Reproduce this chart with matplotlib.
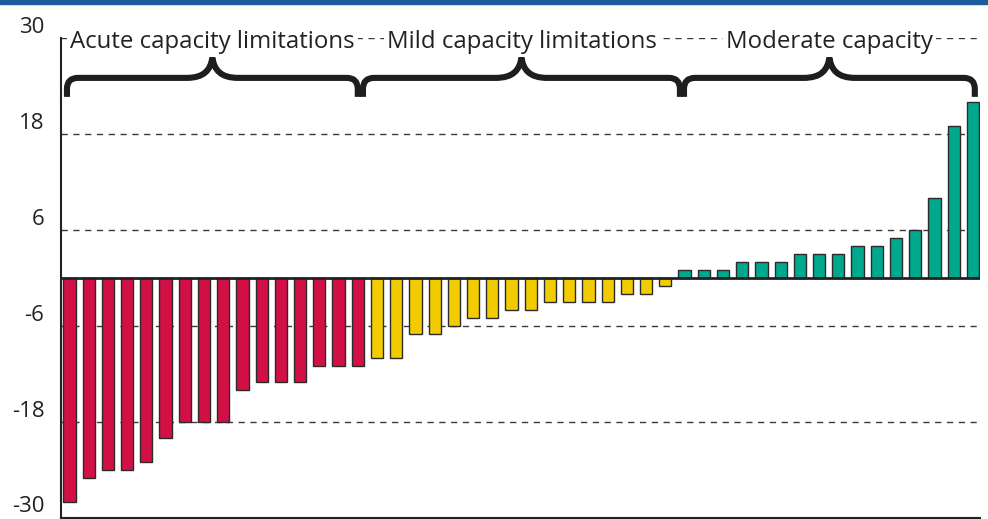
import matplotlib
matplotlib.use('Agg')
import matplotlib.pyplot as plt
from matplotlib.path import Path
from matplotlib.patches import PathPatch, Rectangle
from matplotlib.transforms import ScaledTranslation
import numpy as np

plt.rcParams['font.family'] = ['Open Sans', 'DejaVu Sans']

# values, sorted ascending
acute = [-28, -25, -24, -24, -23, -20, -18, -18, -18, -14, -13, -13, -13, -11, -11, -11]
mild = [-10, -10, -7, -7, -6, -5, -5, -4, -4, -3, -3, -3, -3, -2, -2, -1]
moderate = [1, 1, 1, 2, 2, 2, 3, 3, 3, 4, 4, 5, 6, 10, 19, 22]

groups = ['Acute capacity limitations', 'Mild capacity limitations', 'Moderate capacity']
colors = ['#D21045', '#F2CC00', '#00A88E']
yticks = [30, 18, 6, -6, -18, -30]

W, H = 988, 519
fig = plt.figure(figsize=(W / 100, H / 100), dpi=100)
ax = fig.add_axes([61 / W, 1.5 / H, (980 - 61) / W, (517.5 - 37.7) / H])

# blue band on top of the figure
fig.patches.append(Rectangle((0, 1 - 4 / H), 1, 4 / H, transform=fig.transFigure,
                             color='#1B5A9B', zorder=5))

values = [acute, mild, moderate]
x0 = 0
for vals, col in zip(values, colors):
    x = np.arange(x0, x0 + len(vals))
    ax.bar(x, vals, width=0.64, color=col, edgecolor='#2b2b2b', linewidth=1.0, zorder=3)
    x0 += len(vals)

n = x0
ax.set_xlim(-0.44, n - 1 + 0.37)
ax.set_ylim(-30, 30)

# grid
for y in [30, 18, 6, -6, -18]:
    ax.axhline(y, color='#3a3a3a', lw=1.0, ls=(0, (4.5, 4)), zorder=1)
ax.axhline(0, color='#222222', lw=2.0, zorder=4)

ax.set_xticks([])
ax.set_yticks(yticks)
ax.set_yticklabels([str(v) for v in yticks], fontsize=16, color='#222222', va='baseline')
ax.tick_params(axis='y', length=0, pad=12)
off = ScaledTranslation(0, 5 / 100, fig.dpi_scale_trans)
for lab in ax.get_yticklabels():
    lab.set_transform(lab.get_transform() + off)

for s in ['top', 'right']:
    ax.spines[s].set_visible(False)
for s in ['left', 'bottom']:
    ax.spines[s].set_color('#222222')
    ax.spines[s].set_linewidth(1.5)

# curly braces, sizes in pixels converted to data units
px_x = 1 / 19.22
px_y = 1 / 8.0


def brace(xa, xb, y_end=22.6, ax=ax):
    xm = (xa + xb) / 2
    yh = y_end + 19 * px_y
    yt = y_end + 39 * px_y
    r = 11
    verts = [
        (xa, y_end), (xa, yh - r * px_y),
        (xa, yh), (xa + r * px_x, yh),
        (xm - 26 * px_x, yh),
        (xm - 8 * px_x, yh), (xm - 2 * px_x, yh + 8 * px_y), (xm, yt),
        (xm + 2 * px_x, yh + 8 * px_y), (xm + 8 * px_x, yh), (xm + 26 * px_x, yh),
        (xb - r * px_x, yh),
        (xb, yh), (xb, yh - r * px_y),
        (xb, y_end),
    ]
    codes = [Path.MOVETO, Path.LINETO,
             Path.CURVE3, Path.CURVE3,
             Path.LINETO,
             Path.CURVE4, Path.CURVE4, Path.CURVE4,
             Path.CURVE4, Path.CURVE4, Path.CURVE4,
             Path.LINETO,
             Path.CURVE3, Path.CURVE3,
             Path.LINETO]
    ax.add_patch(PathPatch(Path(verts, codes), fill=False, lw=4.4,
                           edgecolor='#1e1e1e', capstyle='butt', joinstyle='round',
                           zorder=5, clip_on=False))
    return xm


spans = [(-0.13, 15.0), (15.27, 31.76), (31.97, 47.1)]
for (xa, xb), name in zip(spans, groups):
    xm = brace(xa, xb)
    ax.text(xm, 29.5, name, ha='center', va='center', fontsize=17.3, color='#222222',
            bbox=dict(boxstyle='square,pad=0.12', fc='white', ec='none'), zorder=6)

fig.savefig('out.png', dpi=100)
